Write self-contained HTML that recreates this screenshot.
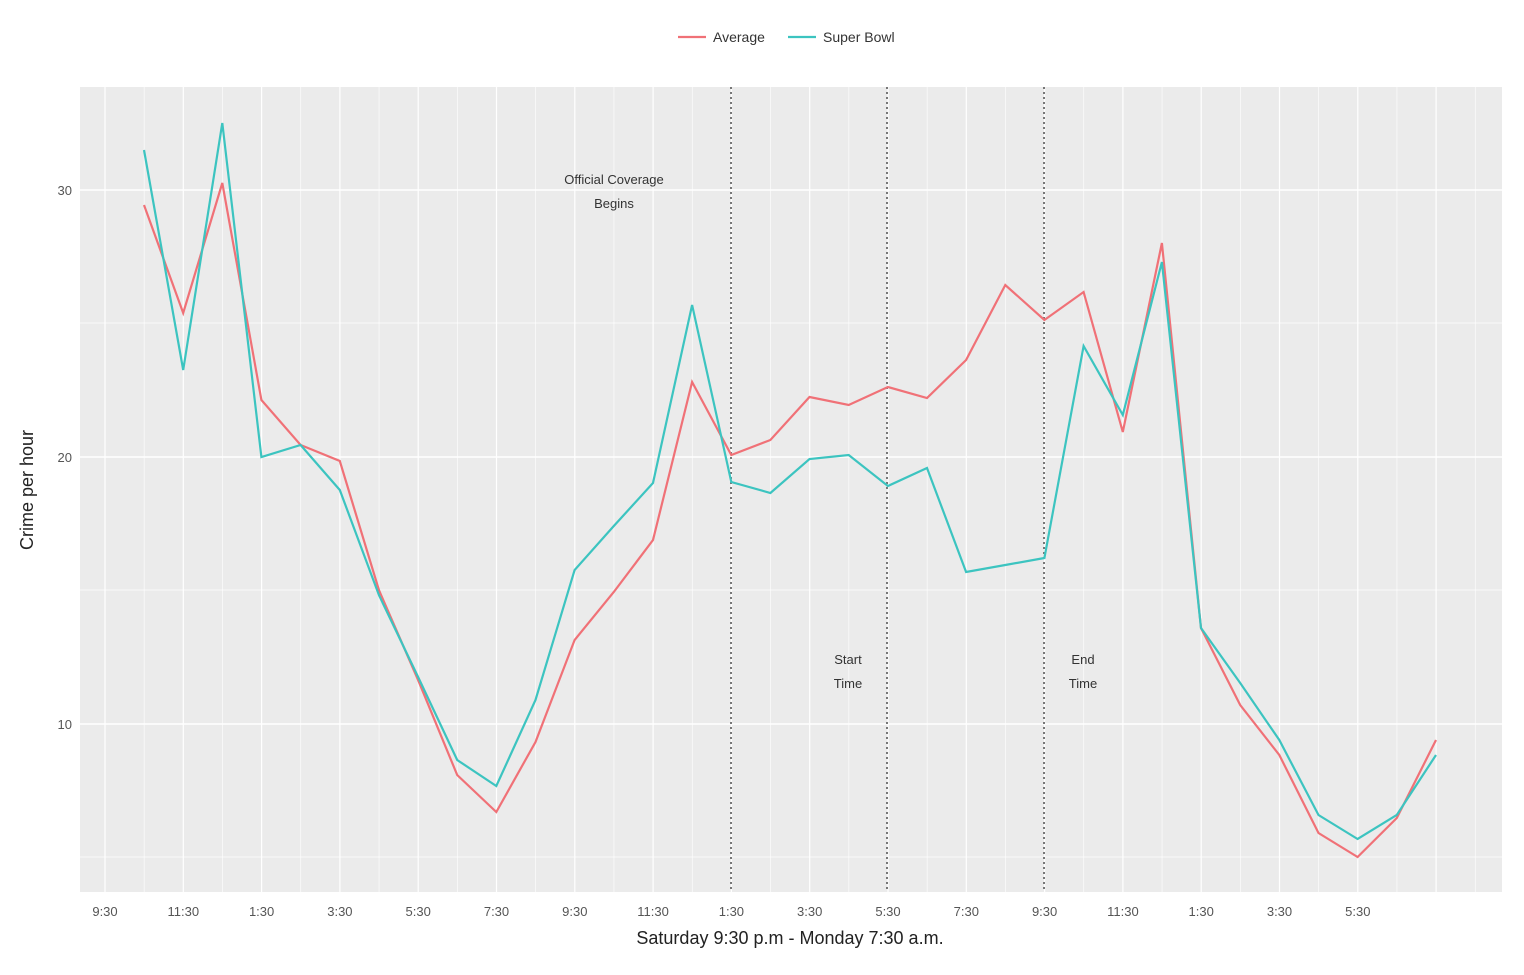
<!DOCTYPE html>
<html><head><style>body{margin:0;background:#fff}</style></head><body>
<svg width="1524" height="970" xmlns="http://www.w3.org/2000/svg" font-family="Liberation Sans, sans-serif">
<rect width="1524" height="970" fill="#fff"/>
<rect x="80" y="87" width="1422" height="805" fill="#ebebeb"/>
<g stroke="#fff" stroke-width="0.8">
<line x1="80" x2="1502" y1="323" y2="323"/><line x1="80" x2="1502" y1="590" y2="590"/><line x1="80" x2="1502" y1="857" y2="857"/>
</g>
<g stroke="#fff" stroke-width="1.6">
<line x1="80" x2="1502" y1="190" y2="190"/><line x1="80" x2="1502" y1="457" y2="457"/><line x1="80" x2="1502" y1="724" y2="724"/>
</g>
<g id="vg" stroke="#fff" stroke-width="1.2"></g>
<g fill="#555" font-size="13" text-anchor="end">
<text x="72" y="195">30</text><text x="72" y="462">20</text><text x="72" y="729">10</text>
</g>
<g id="xl" fill="#555" font-size="13" text-anchor="middle"></g>
<g stroke="#777" stroke-width="2" stroke-dasharray="2,3">
<line x1="731" x2="731" y1="87" y2="892"/><line x1="887" x2="887" y1="87" y2="892"/><line x1="1044" x2="1044" y1="87" y2="892"/>
</g>
<polyline id="avg" fill="none" stroke="#f07177" stroke-width="2.2"/>
<polyline id="sb" fill="none" stroke="#3cc4c0" stroke-width="2.2"/>
<g fill="#333" font-size="13" text-anchor="middle">
<text x="614" y="184">Official Coverage</text><text x="614" y="208">Begins</text>
<text x="848" y="664">Start</text><text x="848" y="688">Time</text>
<text x="1083" y="664">End</text><text x="1083" y="688">Time</text>
</g>
<text x="790" y="944" font-size="18" fill="#222" text-anchor="middle">Saturday 9:30 p.m - Monday 7:30 a.m.</text>
<text transform="translate(33,490) rotate(-90)" font-size="18" fill="#222" text-anchor="middle">Crime per hour</text>
<line x1="678" x2="706" y1="37" y2="37" stroke="#f07177" stroke-width="2.2"/>
<text x="713" y="42" font-size="14" fill="#333">Average</text>
<line x1="788" x2="816" y1="37" y2="37" stroke="#3cc4c0" stroke-width="2.2"/>
<text x="823" y="42" font-size="14" fill="#333">Super Bowl</text>
</svg>
<script>
var a=[205,313,183,400,445,461,590,680,775,812,742,640,592,540,382,455,440,397,405,387,398,360,285,320,292,432,243,628,705,755,833,857,818,740];
var s=[150,370,123,457,445,490,595,677,760,786,700,570,526,483,305,482,493,459,455,486,468,572,565,558,346,415,262,628,683,740,815,839,815,755];
function pts(v){return v.map(function(y,i){return (144+39.15*i).toFixed(1)+","+y}).join(" ")}
document.getElementById("avg").setAttribute("points",pts(a));
document.getElementById("sb").setAttribute("points",pts(s));
var lb=["9:30","11:30","1:30","3:30","5:30","7:30"],ns="http://www.w3.org/2000/svg",vg=document.getElementById("vg"),xl=document.getElementById("xl");
for(var k=0;k<=35;k++){var x=105+39.15*k;var l=document.createElementNS(ns,"line");l.setAttribute("x1",x);l.setAttribute("x2",x);l.setAttribute("y1",87);l.setAttribute("y2",892);if(k%2)l.setAttribute("stroke-width","0.6");vg.appendChild(l);
if(k%2==0&&k<=32){var t=document.createElementNS(ns,"text");t.setAttribute("x",x);t.setAttribute("y",916);t.textContent=lb[(k/2)%6];xl.appendChild(t);}}
</script>
</body></html>
